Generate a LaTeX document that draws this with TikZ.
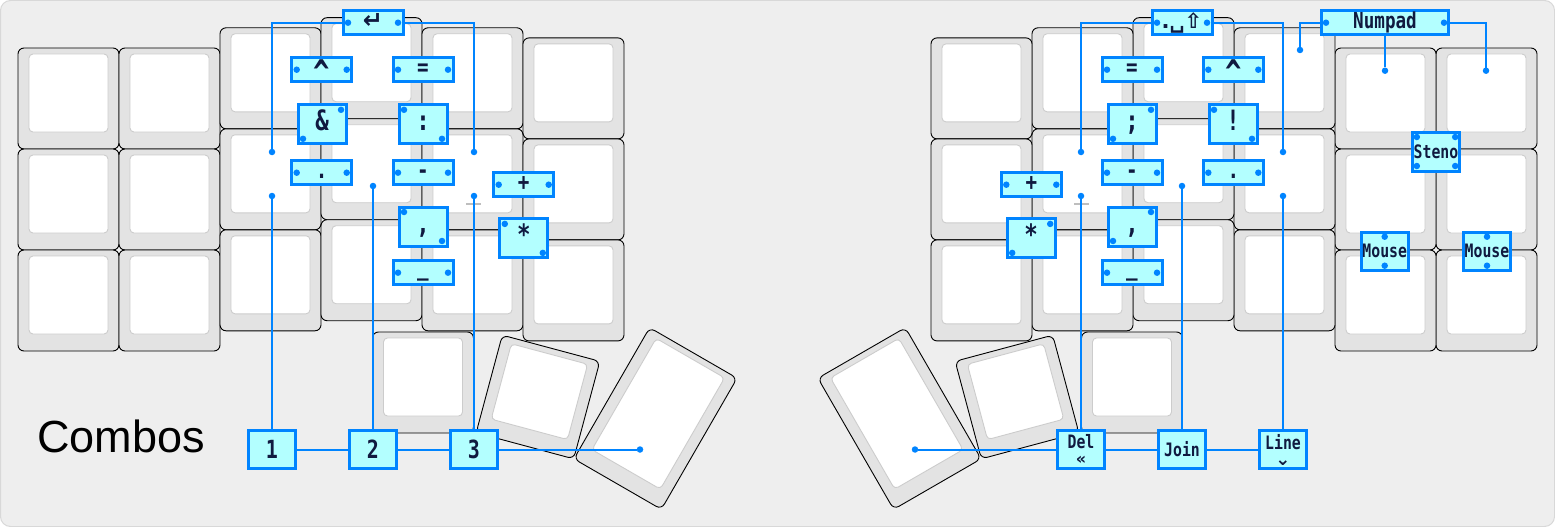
\documentclass[tikz,border=0pt]{standalone}
\usepackage{fontspec}
\usepackage{tikz}
\newfontfamily\titlefont{Liberation Sans}
\newfontfamily\combofont[FakeStretch=0.8]{DejaVu Sans Mono}
\newfontfamily\symfont{DejaVu Sans}
\newcommand{\keyhalf}{50.5}
\newcommand{\bigcaret}{\raisebox{-9pt}{\fontsize{34}{34}\selectfont\textasciicircum}}
\definecolor{boardBg}{RGB}{238,238,238}
\definecolor{boardEdge}{RGB}{216,216,216}
\definecolor{keyGray}{RGB}{227,227,227}
\definecolor{keyRim}{RGB}{204,204,204}
\definecolor{comboBlue}{RGB}{0,132,255}
\definecolor{comboFill}{RGB}{179,255,255}
\definecolor{comboText}{RGB}{16,26,64}
\definecolor{homeBar}{RGB}{190,190,190}
\usetikzlibrary{calc,positioning}
\pgfdeclarelayer{bg}
\pgfdeclarelayer{wires}
\pgfdeclarelayer{fg}
\pgfsetlayers{bg,wires,main,fg}
% one key: centre x, centre y, rotation, height
\newcommand{\keycap}[4]{%
  \begin{scope}[shift={({#1},{#2})},rotate=#3]
    \draw[keyouter] (-\keyhalf,{-#4/2}) rectangle (\keyhalf,{#4/2});
    \draw[keyinner] (-39.5,{-#4/2+6}) rectangle (39.5,{#4/2-17});
  \end{scope}}
\tikzset{
  x=1pt,y=-1pt,
  keyouter/.style={draw=black,line width=0.9pt,fill=keyGray,rounded corners=6pt},
  keyinner/.style={draw=keyRim,line width=0.9pt,fill=white,rounded corners=4pt},
  combo/.style={draw=comboBlue,line width=3pt,fill=comboFill,text=comboText,inner sep=0pt,align=center},
  wide/.style={combo,minimum width=60pt,minimum height=24pt,text height=16pt,text depth=4pt,font=\combofont\bfseries\fontsize{24}{24}\selectfont},
  square/.style={combo,minimum width=48pt,minimum height=39pt,text height=18pt,text depth=5pt,font=\combofont\bfseries\fontsize{28}{28}\selectfont},
  word/.style={combo,minimum width=47pt,minimum height=38pt,font=\combofont\bfseries\fontsize{18.5}{18}\selectfont},
  digit/.style={word,font=\combofont\bfseries\fontsize{25}{25}\selectfont},
  wire/.style={draw=comboBlue,line width=2pt},
  pin/.style={fill=comboBlue,shape=circle,minimum size=6.5pt,inner sep=0pt},
}

\begin{document}
\begin{tikzpicture}
  \useasboundingbox (0,0) rectangle (1555,527);
  \begin{pgfonlayer}{bg}
    \fill[boardBg,draw=boardEdge,line width=1pt,rounded corners=10pt] (0.5,0.5) rectangle (1554.5,526.5);
    % finger keys, both halves
    \foreach \c/\t in {0/48,1/48,2/27.8,3/17.7,4/27.8,5/37.9}
      \foreach \r in {0,1,2} {
        \keycap{68.5+101*\c}{\t+50.5+101*\r}{0}{101}
        \keycap{1486.5-101*\c}{\t+50.5+101*\r}{0}{101}
      }
    % thumb keys
    \keycap{423}{382.5}{0}{101}
    \keycap{1132}{382.5}{0}{101}
    \keycap{538}{397}{-15}{101}
    \keycap{1017}{397}{15}{101}
    \keycap{655.5}{418.5}{-30}{151.5}
    \keycap{899.5}{418.5}{30}{151.5}
    % homing bumps
    \draw[homeBar,line width=2pt] (466,204) -- (481,204);
    \draw[homeBar,line width=2pt] (1074,204) -- (1089,204);
  \end{pgfonlayer}

  \node (title) [anchor=base west,inner sep=0pt,font=\titlefont\fontsize{45}{45}\selectfont] at (37,452) {Combos};

  % left half
  \node (ent) [wide,font=\symfont\bfseries\fontsize{24}{24}\selectfont] at (373,22.7) {↵};
  \node (caret) [wide] at (321.7,69.7) {\bigcaret};
  \node (eq) [wide] at (423,69.7) {=};
  \node (amp) [square] at (322,124.3) {\&};
  \node (colon) [square] at (423,124.3) {:};
  \node (dot) [wide] at (321.7,172.7) {.};
  \node (minus) [wide] at (423,172.7) {-};
  \node (plus) [wide] at (523.7,184.7) {+};
  \node (comma) [square] at (423,226.5) {,};
  \node (star) [square] at (523.8,238.4) {*};
  \node (under) [wide] at (423,272.7) {\raisebox{3pt}{\_}};
  \node (one) [digit] at (272,449.5) {1};
  \node (two) [digit] at (373,449.5) {2};
  \node (three) [digit] at (474,449.5) {3};

  % right half
  \node (shift) [wide,font=\symfont\bfseries\fontsize{21}{21}\selectfont] at (1182,22.7) {.␣⇧};
  \node (eqR) [wide] at (1132,69.7) {=};
  \node (caretR) [wide] at (1233.3,69.7) {\bigcaret};
  \node (semi) [square] at (1132,124.3) {;};
  \node (bang) [square] at (1233,124.3) {!};
  \node (plusR) [wide] at (1031.3,184.7) {+};
  \node (minusR) [wide] at (1132,172.7) {-};
  \node (dotR) [wide] at (1233.3,172.7) {.};
  \node (starR) [square] at (1031.2,238.4) {*};
  \node (commaR) [square] at (1132,226.5) {,};
  \node (underR) [wide] at (1132,272.7) {\raisebox{3pt}{\_}};
  \node (num) [wide,minimum width=127pt,font=\combofont\bfseries\fontsize{22}{22}\selectfont] at (1385,22.7) {Numpad};
  \node (steno) [word,minimum height=39pt] at (1436,151.5) {Steno};
  \node (mouseL) [word] at (1384.7,251.2) {Mouse};
  \node (mouseR) [word] at (1487,251.2) {Mouse};
  \node (del) [word,font=\combofont\bfseries\fontsize{18.5}{16}\selectfont] at (1081,449.5) {Del\\{\symfont\bfseries\fontsize{16}{16}\selectfont «}};
  \node (join) [word] at (1182,449.5) {Join};
  \node (line) [word,font=\combofont\bfseries\fontsize{18.5}{16}\selectfont] at (1283,449.5) {Line\\{\symfont\bfseries\fontsize{18}{16}\selectfont ⌄}};

  % pins
  \begin{pgfonlayer}{fg}
    \foreach \b in {ent,caret,eq,dot,minus,plus,under,shift,eqR,caretR,plusR,minusR,dotR,underR} {
      \node[pin] (\b-l) at ($(\b)+(-25,0)$) {};
      \node[pin] (\b-r) at ($(\b)+(25,0)$) {};
    }
    \foreach \b in {colon,comma,star,bang} {
      \node[pin] (\b-a) at ($(\b)+(-19,-14.5)$) {};
      \node[pin] (\b-b) at ($(\b)+(19,14.5)$) {};
    }
    \foreach \b in {amp,semi,starR,commaR} {
      \node[pin] (\b-a) at ($(\b)+(19,-14.5)$) {};
      \node[pin] (\b-b) at ($(\b)+(-19,14.5)$) {};
    }
    \foreach \b in {mouseL,mouseR} {
      \node[pin] (\b-a) at ($(\b)+(0,-14.5)$) {};
      \node[pin] (\b-b) at ($(\b)+(0,14.5)$) {};
    }
    \node[pin] (steno-a) at ($(steno)+(-19.2,-14.5)$) {};
    \node[pin] (steno-b) at ($(steno)+(19.2,-14.5)$) {};
    \node[pin] (steno-c) at ($(steno)+(-19.2,14.5)$) {};
    \node[pin] (steno-d) at ($(steno)+(19.2,14.5)$) {};
    \node[pin] (num-l) at ($(num)+(-59,0)$) {};
    \node[pin] (num-r) at ($(num)+(59,0)$) {};
    % pins on the keys
    \node[pin] (pEntL) at (272,152) {};
    \node[pin] (pEntR) at (474,152) {};
    \node[pin] (pOne) at (272,196) {};
    \node[pin] (pTwo) at (373,186) {};
    \node[pin] (pThree) at (474,196) {};
    \node[pin] (pThumbL) at (640,449.5) {};
    \node[pin] (pShL) at (1081,152) {};
    \node[pin] (pShR) at (1283,152) {};
    \node[pin] (pDel) at (1081,196) {};
    \node[pin] (pJoin) at (1182,186) {};
    \node[pin] (pLine) at (1283,196) {};
    \node[pin] (pThumbR) at (915,449.5) {};
    \node[pin] (pNumL) at (1300,50) {};
    \node[pin] (pNumM) at (1385,70.7) {};
    \node[pin] (pNumR) at (1486,70.7) {};
  \end{pgfonlayer}

  % wires
  \begin{pgfonlayer}{wires}
    \draw[wire] (ent-l.center) -| (pEntL.center);
    \draw[wire] (ent-r.center) -| (pEntR.center);
    \draw[wire] (pOne) -- (one);
    \draw[wire] (pTwo) -- (two);
    \draw[wire] (pThree) -- (three);
    \draw[wire] (one) -- (two) -- (three) -- (pThumbL);
    \draw[wire] (shift-l.center) -| (pShL.center);
    \draw[wire] (shift-r.center) -| (pShR.center);
    \draw[wire] (num-l.center) -| (pNumL.center);
    \draw[wire] (num-r.center) -| (pNumR.center);
    \draw[wire] (num) -- (pNumM);
    \draw[wire] (pDel) -- (del);
    \draw[wire] (pJoin) -- (join);
    \draw[wire] (pLine) -- (line);
    \draw[wire] (pThumbR) -- (del) -- (join) -- (line);
  \end{pgfonlayer}
\end{tikzpicture}
\end{document}
